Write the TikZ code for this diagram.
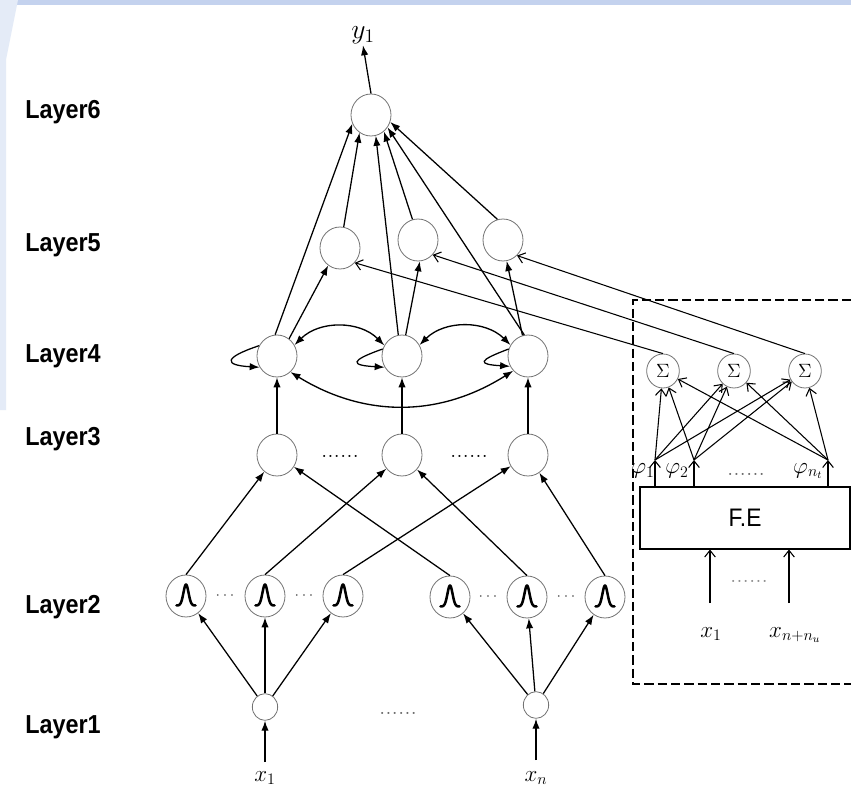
\documentclass[tikz,border=0pt]{standalone}
\usepackage{fontspec}
\newfontfamily\sansn{Liberation Sans}[FakeStretch=0.9]
\usetikzlibrary{arrows.meta,calc,shapes.geometric}
\definecolor{wm}{RGB}{196,210,238}
\begin{document}
\begin{tikzpicture}[x=0.75pt,y=-0.75pt,
  neuron/.style={ellipse, draw=black!55, line width=0.6pt, fill=white, minimum width=30pt, minimum height=31.5pt, inner sep=0pt},
  inneuron/.style={neuron, minimum width=19pt, minimum height=20pt},
  signode/.style={neuron, minimum width=24.5pt, minimum height=25.5pt, font=\fontsize{15}{15}\selectfont},
  arr/.style={-{Latex[length=7.5pt,width=5.5pt]}, line width=0.95pt},
  dblarr/.style={{Latex[length=7.5pt,width=5.5pt]}-{Latex[length=7.5pt,width=5.5pt]}, line width=1pt},
  barb/.style={-{Straight Barb[length=5pt,width=8pt]}, line width=0.8pt},
  layerlab/.style={anchor=base west, font=\sansn\bfseries\fontsize{19.5}{20}\selectfont, inner sep=0pt},
  mlab/.style={font=\fontsize{17}{19}\selectfont, inner sep=0pt},
  dotlab/.style={font=\fontsize{19}{19}\selectfont, inner sep=0pt, anchor=base},
  bell/.style={line width=1.9pt, line cap=round, line join=round},
  dashbox/.style={line width=1.9pt, dash pattern=on 7pt off 3pt},
]
\useasboundingbox (0,0) rectangle (851,792);
\fill[white] (0,0) rectangle (851,792);
\fill[wm] (0,0) rectangle (851,5);
\fill[wm!45] (0,0) -- (18,0) -- (6,60) -- (6,410) -- (0,410) -- cycle;

% layer labels
\node[layerlab] (lab6) at (25,118) {Layer6};
\node[layerlab] (lab5) at (25,252) {Layer5};
\node[layerlab] (lab4) at (25,362) {Layer4};
\node[layerlab] (lab3) at (25,445) {Layer3};
\node[layerlab] (lab2) at (25,613) {Layer2};
\node[layerlab] (lab1) at (25,733) {Layer1};

% nodes
\node[neuron] (L6) at (371,115) {};
\node[font=\fontsize{21}{23}\selectfont, inner sep=1pt] (y1) at (363,35) {$y_1$};

\node[neuron] (L5a) at (340,248) {};
\node[neuron] (L5b) at (418,240) {};
\node[neuron] (L5c) at (503,240) {};

\node[neuron] (L4a) at (277,356) {};
\node[neuron] (L4b) at (402,356) {};
\node[neuron] (L4c) at (528,356) {};

\node[neuron] (L3a) at (277,455) {};
\node[neuron] (L3b) at (402,455) {};
\node[neuron] (L3c) at (528,455) {};
\node[dotlab] (d3a) at (340,457) {......};
\node[dotlab] (d3b) at (469,457) {......};

\node[neuron] (n1) at (186,596) {};
\node[neuron] (n2) at (265,596) {};
\node[neuron] (n3) at (343,596) {};
\node[neuron] (n4) at (450,597) {};
\node[neuron] (n5) at (527,597) {};
\node[neuron] (n6) at (605,597) {};
\foreach \n in {n1,n2,n3,n4,n5,n6}
  \draw[bell, shift={(\n)}] plot[domain=-9.5:9.5, samples=41, smooth] ({\x}, {9.5-21*exp(0-(\x/3.6)*(\x/3.6))});
\node[font=\fontsize{13}{13}\selectfont, inner sep=0pt, text=black!70] (d2a) at (225,596) {$\cdots$};
\node[font=\fontsize{13}{13}\selectfont, inner sep=0pt, text=black!70] (d2b) at (304,596) {$\cdots$};
\node[font=\fontsize{13}{13}\selectfont, inner sep=0pt, text=black!70] (d2c) at (488,597) {$\cdots$};
\node[font=\fontsize{13}{13}\selectfont, inner sep=0pt, text=black!70] (d2d) at (566,597) {$\cdots$};

\node[inneuron] (l1) at (265,707) {};
\node[inneuron] (l2) at (536,705) {};
\node[dotlab, text=black!60] (d1) at (398,714) {......};
\coordinate (i1) at (265,762);
\coordinate (i2) at (536,760);
\node[mlab] (x1) at (265,778) {$x_1$};
\node[mlab] (xn) at (536,778) {$x_n$};

% right panel
\draw[dashbox] (851,300) -- (633,300) -- (633,684) -- (851,684);
\node[signode] (s1) at (663,371) {$\Sigma$};
\node[signode] (s2) at (734,371) {$\Sigma$};
\node[signode] (s3) at (805,371) {$\Sigma$};
\node[draw, line width=0.8pt, minimum width=157.5pt, minimum height=46.5pt, inner sep=0pt, font=\sansn\fontsize{19}{20}\selectfont] (FE) at (745,518) {F.E};
\coordinate (p1) at (655,460);
\coordinate (p2) at (694,460);
\coordinate (p3) at (828,460);
\node[font=\fontsize{17}{18}\selectfont, inner sep=0pt] (phi1) at (643,471) {$\varphi_1$};
\node[font=\fontsize{17}{18}\selectfont, inner sep=0pt] (phi2) at (677,471) {$\varphi_2$};
\node[font=\fontsize{17}{18}\selectfont, inner sep=0pt] (phi3) at (808,471) {$\varphi_{n_t}$};
\node[dotlab, text=black!60] (dphi) at (746,475) {......};
\coordinate (f1) at (710,603);
\coordinate (f2) at (789,603);
\node[dotlab, text=black!45] (dfe) at (749,582) {......};
\node[mlab] (fx1) at (711,634) {$x_1$};
\node[mlab] (fx2) at (795,635) {$x_{n+n_u}$};

% connectors: inputs
\draw[arr] (i1) -- (l1);
\draw[arr] (i2) -- (l2);
\foreach \t in {n1,n2,n3} \draw[arr] (l1) -- (\t);
\foreach \t in {n4,n5,n6} \draw[arr] (l2) -- (\t);
% layer2 -> layer3
\draw[arr] (n1.north) -- (L3a);
\draw[arr] (n4.north) -- (L3a);
\draw[arr] (n2.north) -- (L3b);
\draw[arr] (n5.north) -- (L3b);
\draw[arr] (n3.north) -- (L3c);
\draw[arr] (n6.north) -- (L3c);
% layer3 -> layer4
\draw[arr] (L3a) -- (L4a);
\draw[arr] (L3b) -- (L4b);
\draw[arr] (L3c) -- (L4c);
% layer4 recurrent
\draw[dblarr] (L4a.32) to[bend left=45] (L4b.149);
\draw[dblarr] (L4b.32) to[bend left=45] (L4c.148);
\draw[dblarr] (L4a.-50) to[bend right=32] (L4c.225);
\draw[arr] (L4a.150) .. controls ($(L4a.150)+(-36,12)$) and ($(L4a.213)+(-36,-2)$) .. (L4a.213);
\draw[arr] (L4b.160) .. controls ($(L4b.160)+(-34,12)$) and ($(L4b.213)+(-34,-2)$) .. (L4b.213);
\draw[arr] (L4c.160) .. controls ($(L4c.160)+(-32,12)$) and ($(L4c.210)+(-32,-2)$) .. (L4c.210);
% layer4 -> layer5
\draw[arr] (L4a.55) -- (L5a.236);
\draw[arr] (L4b.80) -- (L5b.275);
\draw[arr] (L4c.105) -- (L5c.280);
% to layer6
\draw[arr] (L4a.95) -- (L6.205);
\draw[arr] (L5a.80) -- (L6.237);
\draw[arr] (L4b.100) -- (L6.283);
\draw[arr] (L5b.105) -- (L6.308);
\draw[arr] (L4c.100) -- (L6.323);
\draw[arr] (L5c.105) -- (L6.340);
\draw[arr] (L6.north) -- (y1.south);
% right panel connectors
\draw[barb] (s1.north) -- (L5a.-45);
\draw[barb] (s2.north) -- (L5b.-45);
\draw[barb] (s3.north) -- (L5c.-48);
\foreach \p in {p1,p2,p3} {
  \draw[barb] (\p |- FE.north) -- (\p);
  \foreach \s in {s1,s2,s3} \draw[barb] (\p) -- (\s);
}
\draw[barb] (f1) -- (f1 |- FE.south);
\draw[barb] (f2) -- (f2 |- FE.south);
\end{tikzpicture}
\end{document}
